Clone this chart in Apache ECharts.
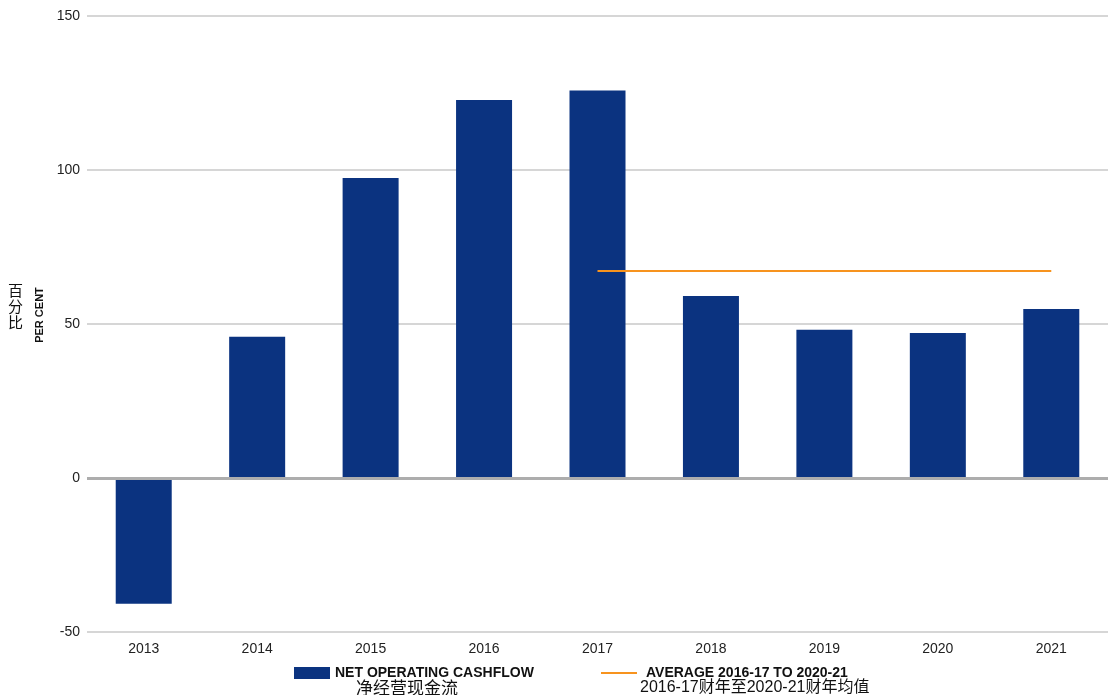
<!DOCTYPE html>
<html>
<head>
<meta charset="utf-8">
<script src="https://cdn.jsdelivr.net/npm/echarts@6/dist/echarts.min.js"></script>
<style>
  html, body { margin: 0; padding: 0; background: #fff; }
  #chart { width: 1109px; height: 695px; }
</style>
</head>
<body>
<div id="chart"></div>
<script>
// 年份
const years = ["2013", "2014", "2015", "2016", "2017", "2018", "2019", "2020", "2021"];
// 净经营现金流 (per cent)
const cashflow = [-40.8, 45.9, 97.4, 122.7, 125.8, 59.1, 48.1, 47.1, 54.9];
// 2016-17 至 2020-21 均值
const average = [null, null, null, null, 67.2, 67.2, 67.2, 67.2, 67.2];
const yTicks = [-50, 0, 50, 100, 150];

const chart = echarts.init(document.getElementById("chart"));
const font = "Liberation Sans, Arial, sans-serif";

const option = {
  animation: false,
  grid: { left: 87, right: 1, top: 16, bottom: 63 },
  legend: [
    {
      left: 294, top: 665, padding: 0, itemWidth: 36, itemHeight: 12,
      data: [{ name: "NET OPERATING CASHFLOW", icon: "rect" }],
      textStyle: { fontFamily: font, fontSize: 14, fontWeight: "bold", color: "#111", lineHeight: 16 }
    },
    {
      left: 601, top: 665, padding: 0, itemWidth: 36, itemHeight: 2,
      data: [{ name: "AVERAGE 2016-17 TO 2020-21", icon: "rect" }],
      textStyle: { fontFamily: font, fontSize: 14, fontWeight: "bold", color: "#111", lineHeight: 16, padding: [0, 0, 0, 4] }
    }
  ],
  xAxis: {
    type: "category",
    data: years,
    axisLine: { show: false },
    axisTick: { show: false },
    axisLabel: { fontFamily: font, fontSize: 14, color: "#222", margin: 10 }
  },
  yAxis: {
    type: "value",
    min: yTicks[0],
    max: yTicks[yTicks.length - 1],
    interval: 50,
    axisLabel: { fontFamily: font, fontSize: 14, color: "#222", margin: 7 },
    axisLine: { show: false },
    axisTick: { show: false },
    splitLine: { lineStyle: { color: "#d6d6d6", width: 2 } }
  },
  series: [
    {
      name: "NET OPERATING CASHFLOW",
      type: "bar",
      data: cashflow,
      barWidth: 56,
      itemStyle: { color: "#0b3380" },
      markLine: {
        silent: true,
        symbol: "none",
        label: { show: false },
        lineStyle: { color: "#adadad", width: 3, type: "solid" },
        data: [{ yAxis: 0 }]
      }
    },
    {
      name: "AVERAGE 2016-17 TO 2020-21",
      type: "line",
      data: average,
      symbol: "none",
      itemStyle: { color: "#f7931e" },
      lineStyle: { color: "#f7931e", width: 2 }
    }
  ],
  graphic: [
    {
      type: "text", left: 8, top: 282,
      style: { text: "百\n分\n比", fontFamily: "Noto Sans CJK SC", fontSize: 15, lineHeight: 16, fill: "#111" }
    },
    {
      type: "text", x: 40, y: 315, rotation: Math.PI / 2,
      style: { text: "PER CENT", fontFamily: font, fontSize: 11, fontWeight: "bold", fill: "#111", align: "center", verticalAlign: "middle" }
    },
    {
      type: "text", left: 356, top: 679,
      style: { text: "净经营现金流", fontFamily: "Noto Sans CJK SC", fontSize: 17, lineHeight: 17, fill: "#111" }
    },
    {
      type: "text", left: 640, top: 679,
      style: { text: "2016-17财年至2020-21财年均值", fontFamily: "Liberation Sans, Noto Sans CJK SC", fontSize: 16, lineHeight: 17, fill: "#111" }
    }
  ]
};

chart.setOption(option);
</script>
</body>
</html>
